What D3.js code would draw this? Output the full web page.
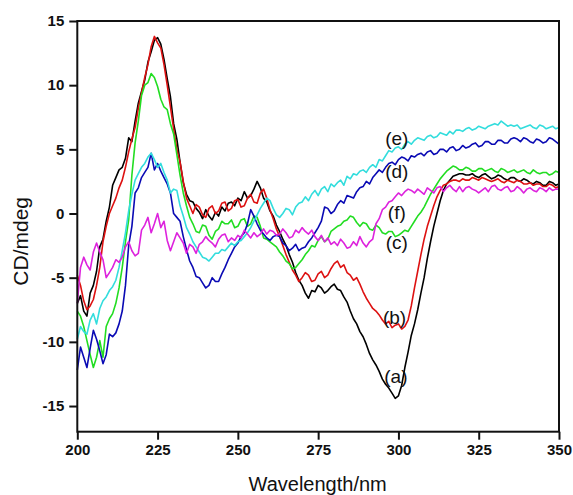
<!DOCTYPE html>
<html>
<head>
<meta charset="utf-8">
<script src="https://cdn.jsdelivr.net/npm/d3@7"></script>
<style>
  html, body { margin: 0; padding: 0; background: #fff; }
  svg { display: block; }
  .tick text { font-family: Arial, "Liberation Sans", sans-serif; font-weight: bold; font-size: 15px; fill: #111; }
</style>
</head>
<body>
<script>
// Wavelength grid (nm), 1 nm steps
const wavelengths = d3.range(200, 351, 1);

// CD values (mdeg) per sample, 200..350 nm
const seriesA = [
-7.0,-6.4,-7.6,-8.0,-6.2,-5.6,-4.5,-2.6,-2.0,-0.6,
0.5,2.2,2.8,3.4,3.6,4.3,5.9,5.6,7.2,8.6,
9.5,10.4,11.8,12.6,13.5,13.7,13.2,12.0,10.5,9.1,
7.0,5.8,4.0,2.4,1.5,1.0,0.9,0.4,0.1,-0.4,
0.3,-0.2,-0.5,0.1,-0.2,0.5,0.2,0.8,0.9,0.6,
1.2,1.0,1.7,1.2,1.4,1.9,2.5,2.0,1.2,0.9,
0.2,-0.2,-0.9,-1.4,-2.0,-2.5,-3.2,-3.8,-4.6,-5.2,
-5.6,-6.2,-6.6,-6.0,-6.1,-5.6,-5.8,-6.2,-6.0,-5.7,
-5.5,-5.9,-6.0,-6.5,-6.9,-7.6,-8.2,-8.6,-9.2,-9.6,
-10.2,-10.9,-11.4,-11.8,-12.3,-12.9,-13.3,-13.6,-14.0,-14.4,
-14.2,-13.4,-12.0,-10.8,-9.5,-8.6,-7.5,-6.2,-5.0,-3.5,
-2.2,-1.0,0.0,1.0,1.8,2.3,2.6,2.9,3.0,3.1,
3.1,3.0,3.0,3.1,2.9,2.8,3.0,3.1,2.9,2.7,
2.8,3.0,2.9,2.7,2.6,2.8,2.8,2.6,2.5,2.7,
2.6,2.4,2.3,2.5,2.4,2.2,2.2,2.5,2.4,2.2,
2.3];
const seriesB = [
-4.8,-5.6,-6.8,-7.5,-7.2,-6.7,-5.6,-4.2,-2.2,-1.0,
0.0,0.6,1.2,2.0,2.6,3.6,4.8,5.8,6.7,8.2,
9.4,10.6,11.6,13.0,13.8,13.3,12.9,11.6,10.0,8.3,
6.6,5.0,4.0,2.5,1.2,0.6,0.0,0.7,0.5,-0.1,
-0.3,0.4,0.6,0.0,0.2,0.8,0.9,0.2,0.4,1.0,
1.1,0.5,0.6,1.2,1.5,0.9,0.8,1.6,1.9,1.2,
0.3,-0.4,-1.2,-1.8,-2.5,-3.2,-3.8,-4.4,-4.8,-5.3,
-5.0,-4.6,-4.8,-5.3,-5.2,-4.7,-4.5,-5.0,-4.8,-4.3,
-3.9,-3.7,-4.2,-4.0,-4.6,-4.8,-5.2,-5.0,-5.5,-6.1,
-6.6,-7.0,-7.4,-7.6,-7.9,-8.3,-8.6,-8.4,-8.9,-8.7,
-8.6,-9.0,-8.8,-8.3,-7.2,-5.8,-4.5,-3.2,-2.0,-1.0,
-0.2,0.6,1.3,1.8,2.2,2.3,2.5,2.6,2.6,2.5,
2.7,2.6,2.6,2.8,2.7,2.6,2.8,2.7,2.6,2.5,
2.6,2.7,2.5,2.4,2.6,2.5,2.4,2.6,2.5,2.3,
2.3,2.4,2.2,2.3,2.3,2.1,2.1,2.3,2.2,2.0,
2.1];
const seriesC = [
-7.6,-8.0,-8.8,-9.9,-11.0,-12.0,-11.2,-9.9,-11.2,-8.8,
-8.2,-7.8,-7.0,-5.8,-4.2,-2.2,-0.5,3.0,5.5,7.2,
9.2,10.0,10.2,10.9,10.6,9.9,8.9,8.3,8.1,7.0,
6.2,4.6,3.0,1.6,0.6,-0.3,-0.8,-1.4,-1.5,-0.9,
-1.0,-1.7,-2.0,-1.4,-1.2,-0.6,-0.8,-0.8,-0.5,-1.1,
-1.0,-0.5,-0.4,-1.0,-0.8,-0.2,-0.3,-1.0,-1.9,-2.0,
-2.2,-2.4,-2.6,-3.0,-3.3,-3.7,-3.9,-4.3,-4.2,-3.9,
-3.6,-3.2,-2.9,-2.5,-2.6,-2.1,-1.8,-2.2,-2.0,-1.4,
-1.2,-1.0,-0.9,-0.6,-0.5,-0.2,-0.3,-0.7,-1.0,-0.7,
-0.8,-1.2,-1.3,-0.9,-1.1,-1.5,-1.6,-1.4,-1.4,-1.8,
-1.7,-1.5,-1.3,-1.4,-1.0,-0.6,-0.2,0.1,0.5,1.0,
1.5,1.9,2.3,2.7,3.0,3.3,3.5,3.7,3.6,3.4,
3.4,3.6,3.5,3.3,3.3,3.5,3.5,3.3,3.4,3.5,
3.3,3.2,3.5,3.4,3.2,3.3,3.4,3.2,3.3,3.4,
3.2,3.1,3.4,3.2,3.1,3.2,3.2,3.0,3.1,3.3,
3.2];
const seriesD = [
-12.2,-10.4,-11.2,-12.0,-10.5,-9.1,-9.8,-10.7,-11.7,-11.0,
-9.4,-9.6,-9.3,-8.6,-7.6,-5.6,-2.5,-1.0,1.6,2.0,
2.8,3.2,3.6,4.7,3.4,3.9,3.3,2.8,2.3,1.6,
0.0,-0.3,-0.6,-1.8,-2.8,-3.7,-4.2,-4.9,-5.0,-5.4,
-5.8,-5.6,-5.0,-5.3,-5.3,-4.7,-4.2,-3.6,-3.1,-2.6,
-2.3,-1.8,-1.5,-0.8,0.3,-0.2,-0.8,-1.3,-1.6,-1.9,
-2.1,-1.8,-1.7,-1.8,-2.3,-2.5,-2.9,-2.7,-2.4,-2.9,
-2.7,-2.6,-2.2,-1.9,-1.5,-1.1,-0.6,0.5,0.4,0.0,
0.2,0.7,1.0,0.8,1.4,1.3,1.2,1.7,2.0,2.1,
2.5,2.3,2.8,3.1,3.4,3.2,3.6,3.9,4.0,3.8,
4.2,4.4,4.3,4.1,4.5,4.4,4.6,4.7,4.5,4.8,
4.9,4.6,4.7,5.0,5.0,4.8,5.1,5.2,4.9,5.0,
5.3,5.1,5.2,5.4,5.5,5.2,5.3,5.6,5.6,5.4,
5.4,5.7,5.7,5.5,5.5,5.8,5.9,5.8,5.6,5.9,
5.8,5.6,5.5,5.8,5.7,5.5,5.6,5.9,5.8,5.6,
5.4];
const seriesE = [
-9.8,-8.8,-9.2,-9.4,-8.3,-7.8,-8.6,-7.4,-6.8,-6.5,
-6.0,-5.7,-5.2,-4.2,-2.9,-1.5,0.2,1.5,2.6,3.1,
3.6,3.9,4.4,4.7,4.2,3.6,3.9,3.2,2.6,1.6,
1.9,1.8,0.6,-0.2,-1.1,-1.6,-2.2,-2.6,-3.0,-3.4,
-3.5,-3.7,-3.4,-3.1,-3.1,-2.8,-2.9,-2.6,-2.3,-2.5,
-2.2,-2.1,-1.8,-1.5,-1.1,-0.6,-0.1,0.4,0.8,1.2,
1.0,0.4,-0.1,-0.3,0.0,0.4,0.3,-0.1,0.5,0.8,
0.9,1.3,1.0,1.5,1.8,1.4,1.9,2.1,1.7,2.3,
2.1,2.4,2.6,2.2,2.9,2.7,3.1,3.0,3.3,3.4,
3.2,3.6,3.8,3.6,4.2,4.1,4.5,4.9,4.8,5.1,
5.2,5.0,5.4,5.6,5.4,5.7,5.9,5.8,5.7,6.0,
6.1,5.9,6.0,6.3,6.2,6.1,6.4,6.2,6.5,6.5,
6.4,6.6,6.7,6.5,6.6,6.8,6.7,6.6,6.8,6.9,
7.0,6.9,7.2,7.0,6.8,6.9,6.8,6.9,6.6,6.7,
6.8,6.9,6.7,6.6,6.9,6.8,6.6,6.7,6.8,6.6,
6.7];
const seriesF = [
-7.0,-4.2,-3.4,-4.0,-4.4,-3.0,-2.3,-3.0,-3.6,-5.0,
-4.6,-4.2,-3.6,-3.8,-3.4,-2.6,-2.2,-2.9,-3.3,-3.1,
-1.3,-0.9,-0.3,-1.5,-0.8,0.0,-1.1,-0.6,-2.1,-2.9,
-2.2,-1.5,-1.9,-2.3,-3.1,-2.4,-2.6,-3.1,-2.4,-2.2,
-1.8,-2.1,-2.3,-2.6,-2.0,-1.7,-1.6,-2.2,-1.9,-2.1,
-1.7,-1.9,-1.3,-1.6,-1.9,-1.5,-1.8,-1.6,-1.2,-1.6,
-1.3,-1.4,-1.7,-1.6,-1.2,-1.5,-1.9,-1.8,-1.3,-1.5,
-1.1,-1.4,-1.6,-1.3,-1.8,-2.1,-1.7,-2.2,-1.9,-2.4,
-2.2,-2.5,-2.0,-2.3,-2.7,-2.6,-2.2,-2.5,-1.8,-2.3,
-2.6,-2.2,-2.0,-0.8,-0.4,0.3,0.5,0.9,1.0,1.3,
1.6,1.4,1.7,1.9,1.8,1.6,1.9,1.7,1.5,2.0,
1.8,1.6,2.0,2.1,1.7,2.0,2.2,1.9,1.7,2.1,
1.7,2.0,2.1,1.9,1.8,1.6,1.8,2.0,1.7,2.1,
2.2,1.9,1.8,2.0,2.1,1.7,1.8,2.1,1.9,1.6,
1.9,2.0,1.8,1.7,2.0,1.9,1.7,2.0,1.8,1.9,
1.9];

const seriesNames = ["(a)", "(b)", "(c)", "(d)", "(e)", "(f)"];
const seriesColors = ["#000000", "#dd1111", "#22dd22", "#0a0ab4", "#33dddd", "#dd22dd"];

// Annotation anchor points (nm, mdeg)
const labelNm = [299.2, 298.8, 299.5, 299.5, 299.5, 299.5];
const labelVal = [-12.7, -8.1, -2.25, 3.3, 5.87, 0.1];

const xTicks = [200, 225, 250, 275, 300, 325, 350];
const yTicks = [-15, -10, -5, 0, 5, 10, 15];
const xTitle = "Wavelength/nm";
const yTitle = "CD/mdeg";

const W = 573, H = 495;
const mLeft = 77.3, mRight = 559, mTop = 21, mBottom = 431.7;

const svg = d3.select("body").append("svg").attr("width", W).attr("height", H);

const x = d3.scaleLinear().domain([200, 350]).range([mLeft, mRight]);
const y = d3.scaleLinear().domain([-17, 15]).range([mBottom, mTop]);

const allSeries = [seriesA, seriesB, seriesC, seriesD, seriesE, seriesF];

const line = d3.line()
  .x((d, i) => x(wavelengths[i]))
  .y(d => y(d));

const plot = svg.append("g");
allSeries.forEach((s, k) => {
  plot.append("path")
    .datum(s)
    .attr("fill", "none")
    .attr("stroke", seriesColors[k])
    .attr("stroke-width", 1.6)
    .attr("stroke-linejoin", "round")
    .attr("d", line);
});

// Frame
svg.append("rect")
  .attr("x", mLeft).attr("y", mTop)
  .attr("width", mRight - mLeft).attr("height", mBottom - mTop)
  .attr("fill", "none").attr("stroke", "#111").attr("stroke-width", 2);

// Axes
const fmt = d => String(d);
const xAxis = svg.append("g")
  .attr("transform", `translate(0,${mBottom})`)
  .call(d3.axisBottom(x).tickValues(xTicks).tickSize(8).tickSizeOuter(0).tickPadding(5).tickFormat(fmt));
const yAxis = svg.append("g")
  .attr("transform", `translate(${mLeft},0)`)
  .call(d3.axisLeft(y).tickValues(yTicks).tickSize(8).tickSizeOuter(0).tickPadding(5).tickFormat(fmt));
[xAxis, yAxis].forEach(g => {
  g.select(".domain").remove();
  g.selectAll(".tick line").attr("stroke", "#111").attr("stroke-width", 2);
});

// Axis titles
svg.append("text")
  .attr("x", (mLeft + mRight) / 2 - 0.5)
  .attr("y", 491)
  .attr("text-anchor", "middle")
  .attr("font-family", "Arial, 'Liberation Sans', sans-serif")
  .attr("font-size", 20)
  .attr("fill", "#111")
  .text(xTitle);

svg.append("text")
  .attr("transform", `translate(28,${(mTop + mBottom) / 2 + 15}) rotate(-90)`)
  .attr("text-anchor", "middle")
  .attr("font-family", "Arial, 'Liberation Sans', sans-serif")
  .attr("font-size", 21)
  .attr("fill", "#111")
  .text(yTitle);

// Curve labels
seriesNames.forEach((name, k) => {
  svg.append("text")
    .attr("x", x(labelNm[k]))
    .attr("y", y(labelVal[k]))
    .attr("dy", "0.35em")
    .attr("text-anchor", "middle")
    .attr("font-family", "Arial, 'Liberation Sans', sans-serif")
    .attr("font-size", 19)
    .attr("fill", "#111")
    .text(name);
});
</script>
</body>
</html>
